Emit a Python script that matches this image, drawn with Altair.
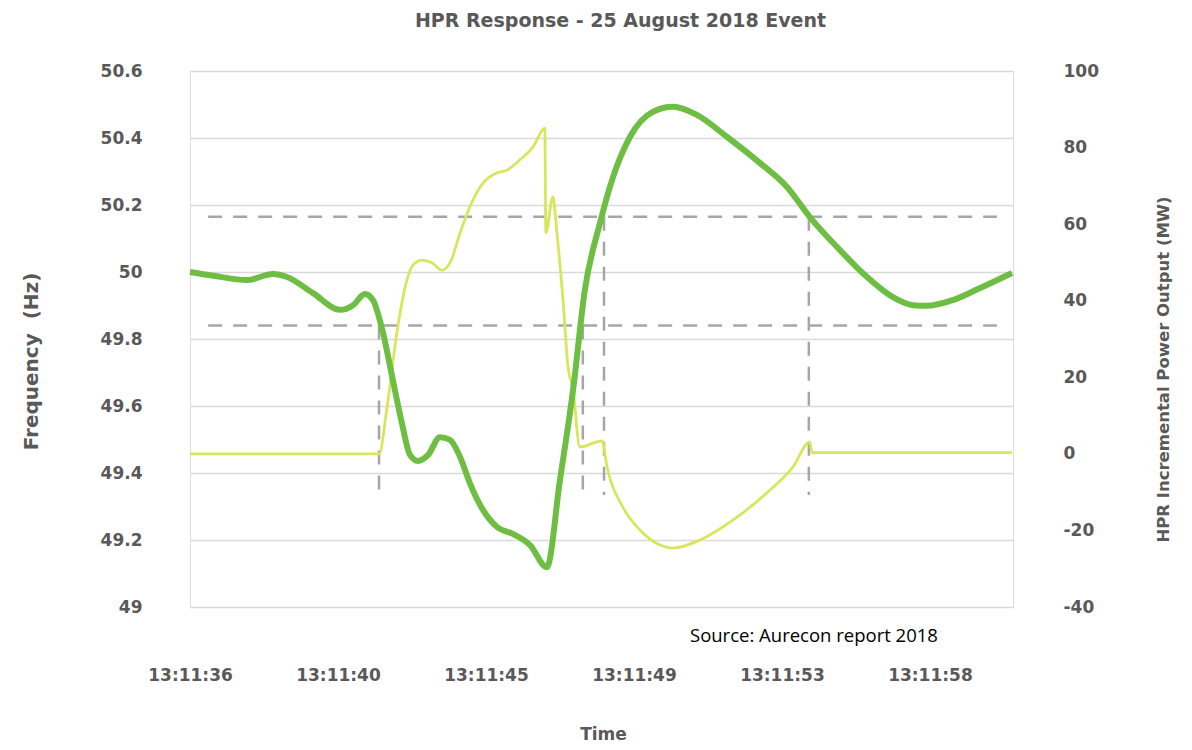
import altair as alt
import pandas as pd

# ---- data ----
# time in seconds after 13:11:00
freq_t = [36.30, 37.04, 37.99, 38.77, 39.18, 39.96, 40.76, 41.15, 41.50, 41.74,
          42.04, 42.33, 42.60, 42.84, 43.08, 43.38, 43.73, 44.03, 44.33, 44.62,
          45.01, 45.43, 45.90, 46.41, 46.91, 47.30, 47.69, 48.04, 48.49, 48.88,
          49.38, 50.06, 50.66, 51.37, 52.27, 53.25, 54.05, 54.73, 55.62, 56.43,
          57.20, 57.79, 58.21, 58.98, 59.79, 60.74]
freq_hz = [50.000, 49.988, 49.976, 49.994, 49.985, 49.937, 49.887, 49.901, 49.934, 49.916,
           49.818, 49.678, 49.549, 49.454, 49.436, 49.454, 49.507, 49.499, 49.448, 49.370,
           49.290, 49.239, 49.218, 49.185, 49.119, 49.379, 49.648, 49.946, 50.146, 50.284,
           50.403, 50.478, 50.493, 50.469, 50.403, 50.325, 50.254, 50.164, 50.066, 49.985,
           49.925, 49.901, 49.899, 49.916, 49.952, 49.997]

pow_t = [36.30, 41.92, 42.16, 42.45, 42.75, 42.93, 43.20, 43.49, 43.79, 44.03,
         44.33, 44.62, 45.01, 45.43, 45.72, 46.11, 46.50, 46.85, 46.88, 47.09,
         47.21, 47.39, 47.54, 47.69, 47.89, 48.55, 48.70, 49.17, 49.68, 50.27,
         50.66, 51.46, 52.44, 53.45, 54.23, 54.73, 54.79, 60.74]
pow_mw = [0.0, 0.0, 12.3, 31.6, 45.4, 49.3, 50.6, 49.9, 48.0, 49.9,
          57.7, 64.5, 70.7, 73.4, 74.1, 76.8, 80.2, 85.1, 57.7, 67.1,
          57.7, 40.2, 22.7, 16.7, 1.8, 3.4, -3.4, -13.9, -19.9, -23.8,
          -24.6, -22.5, -17.3, -10.2, -3.4, 3.1, 0.3, 0.3]

tick_t = [36.3, 40.7, 45.1, 49.5, 53.9, 58.3]
tick_labels = ["13:11:36", "13:11:40", "13:11:45", "13:11:49", "13:11:53", "13:11:58"]
hz_ticks = [49.0, 49.2, 49.4, 49.6, 49.8, 50.0, 50.2, 50.4, 50.6]
mw_ticks = [-40, -20, 0, 20, 40, 60, 80, 100]
t_domain = [36.3, 60.77]
hz_domain = [49.0, 50.6]
mw_domain = [-40, 100]

# dashed guide lines (Hz / seconds)
band_hz = [50.165, 49.84]
band_t = [36.84, 60.29]
vline_t = [41.92, 47.98, 48.61, 54.70]
vline_top = [49.84, 49.84, 50.165, 50.165]
vline_bottom = 49.334

title_text = "HPR Response - 25 August 2018 Event"
source_text = "Source: Aurecon report 2018"

# ---- build tables ----
freq_df = pd.DataFrame({"t": freq_t, "hz": freq_hz})
pow_df = pd.DataFrame({"t": pow_t, "mw": pow_mw})
guide_rows = []
for h in band_hz:
    guide_rows.append({"x": band_t[0], "x2": band_t[1], "y": h, "y2": h})
for t, top in zip(vline_t, vline_top):
    guide_rows.append({"x": t, "x2": t, "y": top, "y2": vline_bottom})
guide_df = pd.DataFrame(guide_rows)

# label expression from the tick lists
expr = "'" + tick_labels[-1] + "'"
for i in range(len(tick_t) - 2, -1, -1):
    mid = (tick_t[i] + tick_t[i + 1]) / 2
    expr = f"datum.value < {mid:.3f} ? '{tick_labels[i]}' : ({expr})"

LABEL_FONT = "DejaVu Sans"
GRAY = "#595959"

x_enc = alt.X(
    "t:Q",
    scale=alt.Scale(domain=t_domain, nice=False, zero=False),
    axis=alt.Axis(
        values=tick_t, labelExpr=expr, labelFlush=False, title="Time", grid=False,
        ticks=False, domain=False, labelPadding=60, labelFont=LABEL_FONT,
        labelFontSize=17, labelFontWeight="bold", labelColor=GRAY,
        titleFont=LABEL_FONT, titleFontSize=17, titleFontWeight="bold",
        titleColor=GRAY, titleX=413, titleY=127, titleAlign="center",
        titleBaseline="middle",
    ),
)

guides = alt.Chart(guide_df).mark_rule(
    color="#A6A6A6", strokeWidth=2.5, strokeDash=[14, 11]
).encode(
    x=alt.X("x:Q", scale=alt.Scale(domain=t_domain, nice=False, zero=False)),
    x2="x2:Q",
    y=alt.Y("y:Q", scale=alt.Scale(domain=hz_domain, nice=False, zero=False), axis=None),
    y2="y2:Q",
)

power = alt.Chart(pow_df).mark_line(
    color="#D8E65C", strokeWidth=2.8, interpolate="monotone"
).encode(
    x=x_enc,
    y=alt.Y(
        "mw:Q",
        scale=alt.Scale(domain=mw_domain, nice=False, zero=False),
        axis=alt.Axis(
            orient="right", values=mw_ticks, labelExpr="'' + datum.value",
            grid=False, ticks=False, domain=False,
            labelPadding=50, labelFont=LABEL_FONT, labelFontSize=17,
            labelFontWeight="bold", labelColor=GRAY,
            title="HPR Incremental Power Output (MW)", titleFont=LABEL_FONT,
            titleFontSize=16.5, titleFontWeight="bold", titleColor=GRAY,
            titleAngle=270, titleX=150, titleY=298, titleAlign="center",
            titleBaseline="middle",
        ),
    ),
)

freq = alt.Chart(freq_df).mark_line(
    color="#6FBE44", strokeWidth=6, interpolate="monotone"
).encode(
    x=alt.X("t:Q", scale=alt.Scale(domain=t_domain, nice=False, zero=False)),
    y=alt.Y(
        "hz:Q",
        scale=alt.Scale(domain=hz_domain, nice=False, zero=False),
        axis=alt.Axis(
            orient="left", values=hz_ticks, format=".1~f", grid=True,
            gridColor="#D9D9D9", gridWidth=1.5, ticks=False, domain=False,
            labelPadding=48, labelFont=LABEL_FONT, labelFontSize=17,
            labelFontWeight="bold", labelColor=GRAY,
            title="Frequency\u00a0 (Hz)", titleFont=LABEL_FONT, titleFontSize=20,
            titleFontWeight="bold", titleColor=GRAY, titleAngle=270,
            titleX=-159, titleY=290, titleAlign="center", titleBaseline="middle",
        ),
    ),
)

source = alt.Chart(pd.DataFrame({"s": [source_text]})).mark_text(
    align="left", baseline="middle", font="Open Sans", fontSize=18.5, color="#000000"
).encode(text="s:N", x=alt.value(500), y=alt.value(565))

chart = alt.layer(guides, power, freq, source).resolve_scale(
    y="independent"
).properties(
    width=823,
    height=536,
    autosize=alt.AutoSizeParams(type="none"),
    padding={"left": 182, "top": 63, "right": 170, "bottom": 135},
    title=alt.TitleParams(
        title_text, font=LABEL_FONT, fontSize=19, fontWeight="bold", color=GRAY,
        anchor="middle", dx=19, offset=31,
    ),
).configure_view(
    stroke="#D9D9D9", strokeWidth=1.5
).configure(background="white")

chart.save("out.html", embed_options={"renderer": "svg", "actions": False})
